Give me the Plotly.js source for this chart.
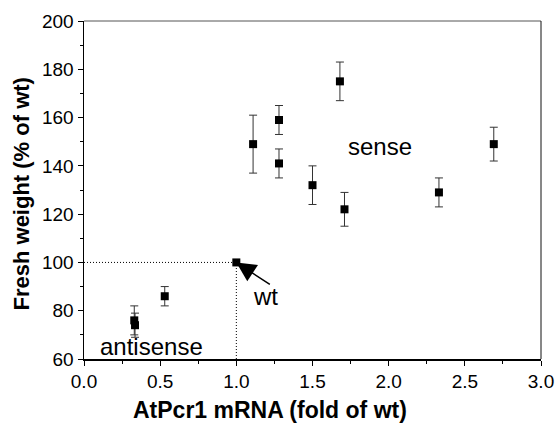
<!DOCTYPE html>
<html>
<head>
<meta charset="utf-8">
<script src="https://cdn.plot.ly/plotly-3.0.1.min.js"></script>
<style>html,body{margin:0;padding:0;background:#fff;}#chart{width:559px;height:425px;}</style>
</head>
<body>
<div id="chart"></div>
<script>
// Data
const mrna   = [0.33, 0.335, 0.53, 1.11, 1.28, 1.28, 1.50, 1.68, 1.71, 2.33, 2.69];
const weight = [76,   74,    86,   149,  159,  141,  132,  175,  122,  129,  149];
const errs   = [6,    5,     4,    12,   6,    6,    8,    8,    7,    6,    7];
const wtX = [1.0];
const wtY = [100];
const xTickVals = [0, 0.5, 1.0, 1.5, 2.0, 2.5, 3.0];
const xTickText = ["0.0", "0.5", "1.0", "1.5", "2.0", "2.5", "3.0"];
const yTickVals = [60, 80, 100, 120, 140, 160, 180, 200];
const labels = {antisense: "antisense", sense: "sense", wt: "wt"};
const xTitle = "AtPcr1 mRNA (fold of wt)";
const yTitle = "Fresh weight (% of wt)";

const font = "Liberation Sans, Arial, sans-serif";

const traces = [
  {
    x: mrna, y: weight, type: "scatter", mode: "markers",
    marker: {symbol: "square", size: 8, color: "#000"},
    error_y: {type: "data", array: errs, visible: true, color: "#333", thickness: 1, width: 4},
    hoverinfo: "none", showlegend: false, cliponaxis: false
  },
  {
    x: wtX, y: wtY, type: "scatter", mode: "markers",
    marker: {symbol: "square", size: 8, color: "#000"},
    hoverinfo: "none", showlegend: false, cliponaxis: false
  }
];

const layout = {
  width: 559, height: 425,
  margin: {l: 84, r: 18, t: 21, b: 66},
  paper_bgcolor: "#fff", plot_bgcolor: "#fff",
  font: {family: font, color: "#000"},
  showlegend: false,
  xaxis: {
    range: [0, 3], tickvals: xTickVals, ticktext: xTickText,
    ticks: "outside", ticklen: 5, tickwidth: 1, tickcolor: "#000",
    minor: {dtick: 0.25, ticks: "outside", ticklen: 3, tickcolor: "#000", showgrid: false},
    showgrid: false, zeroline: false, showline: true, linecolor: "#000", linewidth: 1.5,
    tickfont: {size: 19, family: font}
  },
  yaxis: {
    range: [60, 200], tickvals: yTickVals,
    ticks: "outside", ticklen: 5, tickwidth: 1, tickcolor: "#000",
    minor: {dtick: 10, ticks: "outside", ticklen: 3, tickcolor: "#000", showgrid: false},
    showgrid: false, zeroline: false, showline: true, linecolor: "#000", linewidth: 1.5,
    tickfont: {size: 19, family: font}
  },
  shapes: [
    {type: "line", xref: "x", yref: "y", x0: 0, x1: wtX[0], y0: wtY[0], y1: wtY[0],
     line: {color: "#000", width: 1, dash: "1px,2px"}},
    {type: "line", xref: "x", yref: "y", x0: wtX[0], x1: wtX[0], y0: 60, y1: wtY[0],
     line: {color: "#000", width: 1, dash: "1px,2px"}},
    {type: "line", xref: "paper", yref: "paper", x0: 0, x1: 1, y0: 1, y1: 1,
     line: {color: "#555", width: 1}},
    {type: "line", xref: "paper", yref: "paper", x0: 1, x1: 1, y0: 0, y1: 1,
     line: {color: "#111", width: 1}}
  ],
  annotations: [
    {x: 0.407, y: -0.152, xref: "paper", yref: "paper", text: "<b>" + xTitle + "</b>", showarrow: false,
     font: {size: 23, family: font}, xanchor: "center", yanchor: "middle"},
    {x: -0.1357, y: 0.4896, xref: "paper", yref: "paper", text: "<b>" + yTitle + "</b>", showarrow: false,
     textangle: -90, font: {size: 22, family: font}, xanchor: "center", yanchor: "middle"},
    {x: 0.44, y: 65, xref: "x", yref: "y", text: labels.antisense, showarrow: false,
     font: {size: 24, family: font}, xanchor: "center", yanchor: "middle"},
    {x: 1.94, y: 148.2, xref: "x", yref: "y", text: labels.sense, showarrow: false,
     font: {size: 24, family: font}, xanchor: "center", yanchor: "middle"},
    {x: 1.19, y: 86, xref: "x", yref: "y", text: labels.wt, showarrow: false,
     font: {size: 24, family: font}, xanchor: "center", yanchor: "middle"},
    {x: wtX[0], y: wtY[0], xref: "x", yref: "y", text: "", showarrow: true,
     ax: 35, ay: 23, arrowhead: 2, arrowsize: 2.6, arrowwidth: 1.5, arrowcolor: "#000",
     standoff: 0}
  ]
};

Plotly.newPlot("chart", traces, layout, {staticPlot: true, displayModeBar: false});
</script>
</body>
</html>
